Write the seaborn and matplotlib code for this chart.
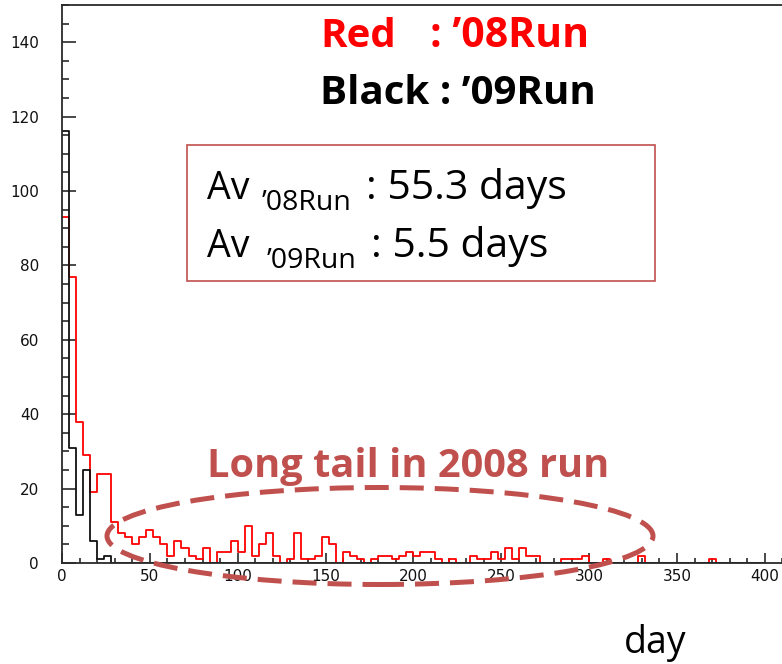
import numpy as np
import pandas as pd
import matplotlib
matplotlib.use("Agg")
import matplotlib.pyplot as plt
from matplotlib.patches import Ellipse, Rectangle
from matplotlib.ticker import MultipleLocator
import seaborn as sns

# ---- data: entries per 4-day bin (0 .. 400 days) ----
BIN_WIDTH = 4
bin_start = np.arange(0, 400, BIN_WIDTH)

counts_2008 = [
    93, 77, 38, 29, 19, 24, 24, 11, 8, 7,
    5, 7, 9, 7, 5, 2, 6, 4, 2, 1,
    4, 0, 3, 3, 6, 3, 10, 2, 5, 8,
    2, 0, 1, 8, 1, 1, 2, 7, 5, 0,
    3, 2, 1, 0, 1, 2, 2, 1, 2, 3,
    2, 3, 3, 1, 0, 1, 0, 0, 2, 1,
    1, 3, 1, 4, 1, 4, 2, 2, 0, 0,
    0, 1, 1, 1, 2, 0, 0, 1, 0, 0,
    0, 0, 2, 0, 0, 0, 0, 0, 0, 0,
    0, 0, 1, 0, 0, 0, 0, 0, 0, 0,
]
counts_2009 = [116, 31, 13, 25, 6, 1, 2] + [0] * 93

x_ticks = [0, 50, 100, 150, 200, 250, 300, 350, 400]
y_ticks = [0, 20, 40, 60, 80, 100, 120, 140]

RED = "#ff0000"
ACCENT = "#c0504d"
AXIS = "#2a2a2a"

sns.set_theme(style="white")
plt.rcParams["font.family"] = ["DejaVu Sans"]

W, H = 782, 664
fig = plt.figure(figsize=(W / 100, H / 100), dpi=100)
fig.patch.set_facecolor("white")
ax = fig.add_axes([62 / W, 101 / H, 738 / W, 558 / H])
ax.set_facecolor("white")

centers = bin_start + BIN_WIDTH / 2
runs = pd.DataFrame({
    "day": np.concatenate([centers, centers]),
    "count": counts_2008 + counts_2009,
    "run": ["2008"] * len(centers) + ["2009"] * len(centers),
})

for run, colour in (("2008", RED), ("2009", "#111111")):
    sns.histplot(data=runs[runs["run"] == run], x="day", weights="count",
                 binwidth=BIN_WIDTH, binrange=(0, 400), element="step",
                 fill=False, color=colour, linewidth=1.3, ax=ax)

ax.set_xlim(0, 420)
ax.set_ylim(0, 150)
ax.set_xlabel("")
ax.set_ylabel("")

ax.set_xticks(x_ticks)
ax.set_yticks(y_ticks)
ax.xaxis.set_minor_locator(MultipleLocator(10))
ax.yaxis.set_minor_locator(MultipleLocator(5))
ax.tick_params(which="both", direction="in", bottom=True, left=True,
               top=False, right=False, color=AXIS, width=1.2,
               labelsize=11, labelcolor="#111111")
ax.tick_params(axis="x", which="major", length=7.5, pad=4)
ax.tick_params(axis="x", which="minor", length=3.5)
ax.tick_params(axis="y", which="major", length=10, pad=16.5)
ax.tick_params(axis="y", which="minor", length=5)

ax.spines["right"].set_visible(False)
for side in ("left", "bottom", "top"):
    ax.spines[side].set_color(AXIS)
    ax.spines[side].set_linewidth(1.3)
    ax.spines[side].set_zorder(3)


def at(x, y):
    """pixel position (from top-left) -> figure fraction"""
    return x / W, 1 - y / H


FONT = ["Open Sans", "DejaVu Sans"]

# colour key
fig.text(*at(320, 47), "Red", color=RED, fontsize=29, fontweight="bold",
         family=FONT, va="baseline")
fig.text(*at(430, 47), ": \u201908Run", color=RED, fontsize=29.5,
         fontweight="bold", family=FONT, va="baseline")
fig.text(*at(320, 104), "Black : \u201909Run", color="black", fontsize=29,
         fontweight="bold", family=FONT, va="baseline")

# averages box
fig.add_artist(Rectangle(at(187, 281), (655 - 187) / W, (281 - 145) / H,
                         transform=fig.transFigure, fill=False,
                         edgecolor=ACCENT, linewidth=1.2))
for base, sub_x, sub, rest_x, rest in [
        (199, 262, "\u201908Run", 366, ": 55.3 days"),
        (257, 267, "\u201909Run", 371, ": 5.5 days")]:
    fig.text(*at(207, base), "Av", fontsize=27, family=FONT,
             color="black", va="baseline")
    fig.text(*at(sub_x, base + 11), sub, fontsize=20.5, family=FONT,
             color="black", va="baseline")
    fig.text(*at(rest_x, base), rest, fontsize=29.5, family=FONT,
             color="black", va="baseline")

# tail annotation
fig.text(*at(207, 477), "Long tail in 2008 run", color=ACCENT, fontsize=28.6,
         fontweight="bold", family=FONT, va="baseline")
ell = Ellipse(at(380, 536), 546 / W, 97 / H, transform=fig.transFigure,
              fill=False, edgecolor=ACCENT, linewidth=3.6,
              linestyle=(0, (4.8, 2.2)), zorder=5)
fig.add_artist(ell)

# axis title
fig.text(*at(624, 653), "day", fontsize=27, family=FONT, color="black",
         va="baseline")

fig.savefig("out.png", dpi=100)
